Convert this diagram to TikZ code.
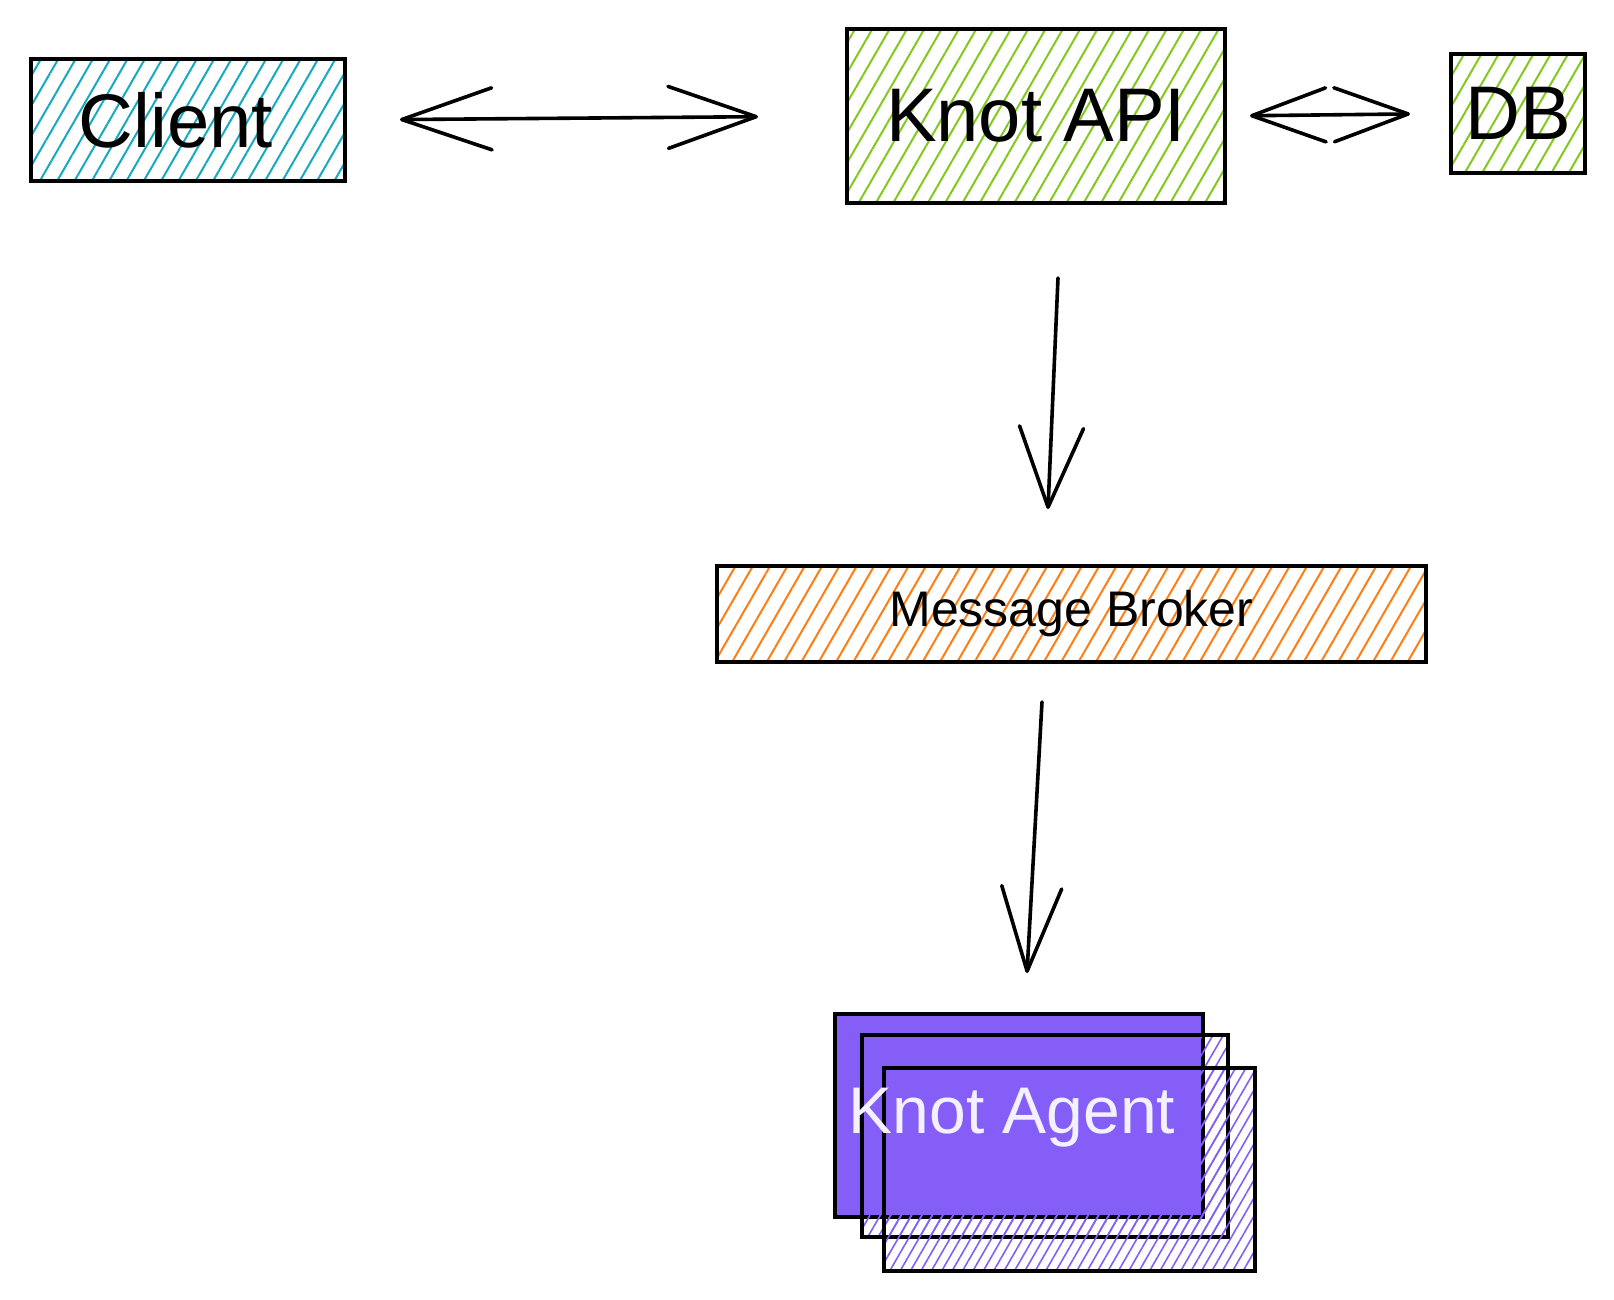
\documentclass[tikz,border=0pt]{standalone}
\usepackage{fontspec}
\setmainfont{Liberation Sans}
\usetikzlibrary{patterns.meta,arrows.meta,calc}
\definecolor{cyanh}{HTML}{15AABF}
\definecolor{limeh}{HTML}{82C91E}
\definecolor{orangeh}{HTML}{FD7E14}
\definecolor{violeth}{HTML}{845EF7}
\definecolor{agenttext}{HTML}{F3F0FF}
\begin{document}
\begin{tikzpicture}[x=0.5pt,y=-0.5pt,
  box/.style={draw=black, line width=2pt, inner sep=0pt, rectangle, anchor=center},
  hatch/.style={pattern={Lines[angle=60,distance=7.5pt,line width=1pt]}, pattern color=#1},
  densehatch/.style={pattern={Lines[angle=60,distance=4.5pt,line width=0.8pt]}, pattern color=#1},
  conn/.style={line width=1.8pt, line cap=round, line join=round},
  bigtext/.style={font=\fontsize{38}{40}\selectfont},
]
\useasboundingbox (0,0) rectangle (1614,1300);

% top row
\node[box, hatch=cyanh, minimum width=157pt, minimum height=61pt, bigtext] (client) at (188,120) {Client\hspace*{12pt}};
\node[box, hatch=limeh, minimum width=189pt, minimum height=87pt, bigtext] (api) at (1036,116) {Knot API};
\node[box, hatch=limeh, minimum width=67pt, minimum height=59.5pt, bigtext] (db) at (1518,113.5) {DB};

% broker
\node[box, hatch=orangeh, minimum width=354.5pt, minimum height=48pt, font=\fontsize{25}{27}\selectfont] (broker) at (1071.5,614) {Message Broker};

% agents
\node[box, fill=violeth, minimum width=184pt, minimum height=101.5pt] (agent1) at (1019,1115.5) {};
\node[box, densehatch=violeth, minimum width=183pt, minimum height=101pt] (agent2) at (1045,1136) {};
\node[box, densehatch=violeth, minimum width=185.5pt, minimum height=101.5pt] (agent3) at (1069.5,1169.5) {};
\node[text=agenttext, font=\fontsize{33}{35}\selectfont, inner sep=0pt] (agentlabel) at (1012,1118) {Knot Agent};

% connectors
\draw[conn, {Straight Barb[length=45pt,width=31pt,round]}-{Straight Barb[length=44pt,width=31pt,round]},
      shorten <=27pt, shorten >=43.5pt] (client.east) -- (api.west);
\draw[conn, {Straight Barb[length=37pt,width=27pt,round]}-{Straight Barb[length=37pt,width=27pt,round]},
      shorten <=11.5pt, shorten >=19.5pt] (api.east) -- (db.west);
\draw[conn, -{Straight Barb[length=40pt,width=32pt,round]}]
      ($(api.south)+(22,73)$) -- ($(broker.north)+(-23.5,-55)$);
\draw[conn, -{Straight Barb[length=42pt,width=30pt,round]}]
      ($(broker.south)+(-29.5,38)$) -- ($(agent1.north)+(8,-39)$);
\end{tikzpicture}
\end{document}
